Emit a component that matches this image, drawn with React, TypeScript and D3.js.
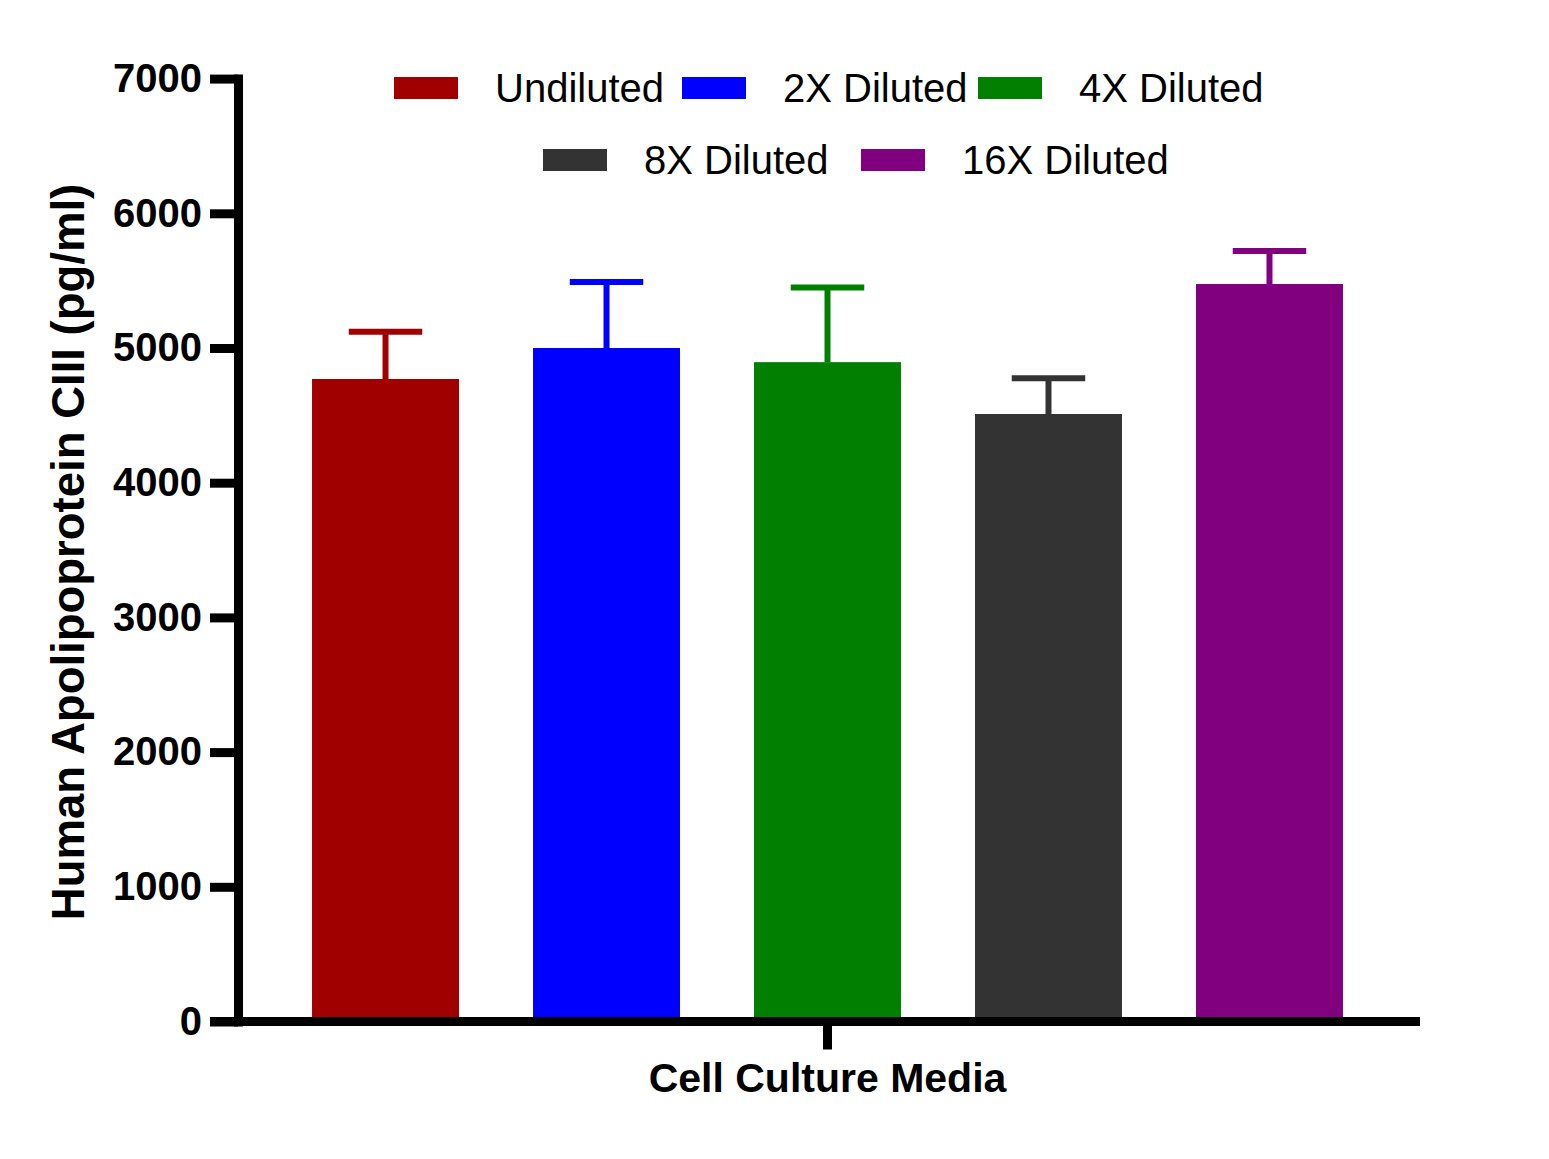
import { useEffect, useRef } from 'react';
import * as d3 from 'd3';

// Values
const group = 'Cell Culture Media';
const dilutions = ['Undiluted', '2X Diluted', '4X Diluted', '8X Diluted', '16X Diluted'];
const means = [4770, 5000, 4895, 4510, 5475];
const errors = [350, 490, 555, 265, 245];
const colors = ['#a00000', '#0000ff', '#007f00', '#333333', '#800080'];
const yTicks = [0, 1000, 2000, 3000, 4000, 5000, 6000, 7000];

// legend layout: [row, left x of swatch]
const legendRows = [0, 0, 0, 1, 1];
const legendLeft = [394, 682, 978, 543, 861];

const FONT = '"Liberation Sans", Arial, Helvetica, sans-serif';

export default function App() {
    const svgRef = useRef<SVGSVGElement>(null);
    const width = 1549;
    const height = 1159;

    useEffect(() => {
        if (!svgRef.current) return;
        const svg = d3.select(svgRef.current);
        svg.selectAll('*').remove();

        const axisX = 238;
        const y = d3.scaleLinear().domain([0, 7000]).range([1021.5, 78.6]);

        const x0 = d3.scaleBand<string>().domain([group]).range([axisX, 1417]);
        const x1 = d3.scaleBand<string>()
            .domain(dilutions)
            .range([x0(group)!, x0(group)! + x0.bandwidth()])
            .padding(0.335);

        const data = dilutions.map((d, i) => ({ name: d, mean: means[i], err: errors[i], color: colors[i] }));

        // Bars
        svg.append('g')
            .selectAll('rect')
            .data(data)
            .join('rect')
            .attr('x', d => x1(d.name)!)
            .attr('width', x1.bandwidth())
            .attr('y', d => y(d.mean))
            .attr('height', d => y(0) - y(d.mean))
            .attr('fill', d => d.color);

        // Error bars (upper only)
        const capHalf = x1.bandwidth() / 4;
        const eb = svg.append('g')
            .selectAll('g')
            .data(data)
            .join('g')
            .attr('stroke', d => d.color)
            .attr('stroke-width', 6);
        eb.append('line')
            .attr('x1', d => x1(d.name)! + x1.bandwidth() / 2)
            .attr('x2', d => x1(d.name)! + x1.bandwidth() / 2)
            .attr('y1', d => y(d.mean))
            .attr('y2', d => y(d.mean + d.err));
        eb.append('line')
            .attr('x1', d => x1(d.name)! + x1.bandwidth() / 2 - capHalf)
            .attr('x2', d => x1(d.name)! + x1.bandwidth() / 2 + capHalf)
            .attr('y1', d => y(d.mean + d.err))
            .attr('y2', d => y(d.mean + d.err));

        // Y axis
        const yAxis = svg.append('g')
            .attr('transform', `translate(${axisX},0)`)
            .call(d3.axisLeft(y).tickValues(yTicks).tickFormat(d3.format('d')).tickSize(28).tickSizeOuter(0).tickPadding(8));
        yAxis.select('.domain').attr('stroke', '#000').attr('stroke-width', 9).attr('stroke-linecap', 'square');
        yAxis.selectAll('.tick line').attr('stroke', '#000').attr('stroke-width', 9);
        yAxis.selectAll('.tick text')
            .attr('fill', '#000')
            .style('font-family', FONT)
            .style('font-size', '40px')
            .style('font-weight', 'bold');

        // X axis
        const xAxis = svg.append('g')
            .attr('transform', `translate(0,${y(0)})`)
            .call(d3.axisBottom(x0).tickSize(28).tickFormat(() => ''));
        xAxis.select('.domain').remove();
        xAxis.selectAll('.tick line').attr('stroke', '#000').attr('stroke-width', 9);
        xAxis.append('line')
            .attr('x1', axisX - 28)
            .attr('x2', 1420)
            .attr('stroke', '#000')
            .attr('stroke-width', 9);

        // Axis titles
        svg.append('text')
            .attr('x', x0(group)! + x0.bandwidth() / 2)
            .attr('y', 1092)
            .attr('text-anchor', 'middle')
            .style('font-family', FONT)
            .style('font-size', '41px')
            .style('font-weight', 'bold')
            .text(group);

        svg.append('text')
            .attr('transform', `translate(84,552) rotate(-90)`)
            .attr('text-anchor', 'middle')
            .style('font-family', FONT)
            .style('font-size', '45.5px')
            .style('font-weight', 'bold')
            .text('Human Apolipoprotein CIII (pg/ml)');

        // Legend
        const rowY = [88, 160];
        const legend = svg.append('g')
            .selectAll('g')
            .data(data)
            .join('g')
            .attr('transform', (d, i) => `translate(${legendLeft[i]},${rowY[legendRows[i]]})`);
        legend.append('rect')
            .attr('x', 0)
            .attr('y', -11)
            .attr('width', 64)
            .attr('height', 22)
            .attr('fill', d => d.color);
        legend.append('text')
            .attr('x', 101)
            .attr('y', 14)
            .style('font-family', FONT)
            .style('font-size', '40px')
            .text(d => d.name);
    }, []);

    return (
        <svg
            ref={svgRef}
            width={width}
            height={height}
            style={{ position: 'absolute', left: 0, top: 0, background: '#fff' }}
        />
    );
}
